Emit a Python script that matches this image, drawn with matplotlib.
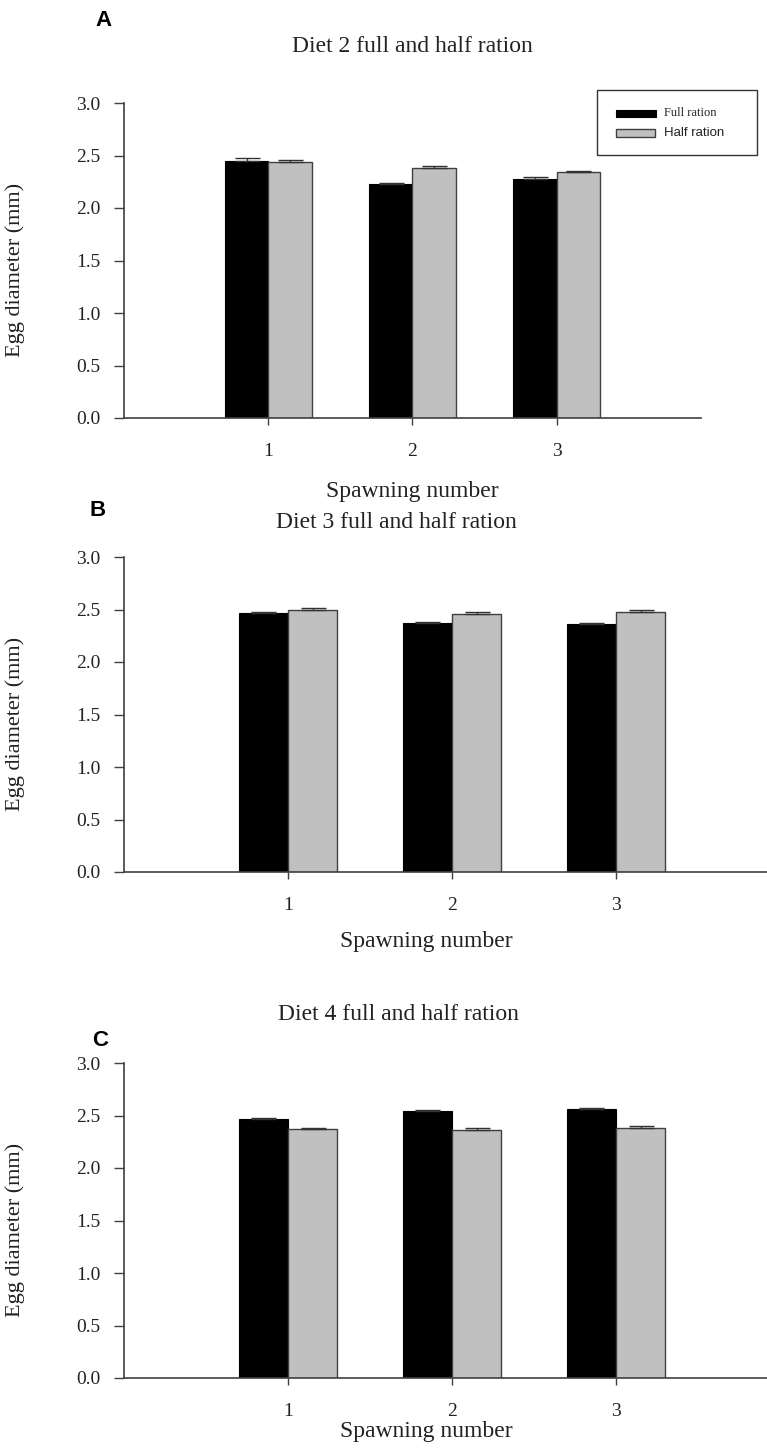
import matplotlib
matplotlib.use("Agg")
import matplotlib.pyplot as plt
from matplotlib.patches import Rectangle
import numpy as np

# ---------------- data ----------------
spawning = [1, 2, 3]
tick_labels = ["1", "2", "3"]
y_ticks = [0.0, 0.5, 1.0, 1.5, 2.0, 2.5, 3.0]
y_tick_labels = ["0.0", "0.5", "1.0", "1.5", "2.0", "2.5", "3.0"]
series_names = ["Full ration", "Half ration"]
titles = ["Diet 2 full and half ration", "Diet 3 full and half ration", "Diet 4 full and half ration"]
panel_letters = ["A", "B", "C"]

diet2_full = [2.45, 2.23, 2.28]
diet2_full_err = [0.022, 0.012, 0.019]
diet2_half = [2.44, 2.38, 2.34]
diet2_half_err = [0.015, 0.018, 0.013]

diet3_full = [2.465, 2.37, 2.36]
diet3_full_err = [0.010, 0.012, 0.012]
diet3_half = [2.495, 2.455, 2.48]
diet3_half_err = [0.020, 0.018, 0.015]

diet4_full = [2.465, 2.545, 2.565]
diet4_full_err = [0.012, 0.010, 0.010]
diet4_half = [2.37, 2.365, 2.38]
diet4_half_err = [0.015, 0.015, 0.020]

# ---------------- layout helpers ----------------
W, H = 767, 1450
fig = plt.figure(figsize=(W / 100, H / 100), dpi=100)
fig.patch.set_facecolor("white")

def fx(x):
    return x / W

def fy(y):
    return 1 - y / H

SERIF = ["Liberation Serif", "DejaVu Serif"]
SANS = ["Liberation Sans", "DejaVu Sans"]
FULL_COLOR = "#000000"
HALF_COLOR = "#c0c0c0"
EDGE_HALF = "#404040"
AX_COLOR = "#404040"

# axes pixel boxes: left, right, top(3.0), bottom(0.0)
boxes = [(124, 701, 103, 418), (124, 780, 557, 872), (124, 780, 1063, 1378)]
title_pos = [(412, 46), (396, 523), (398, 1015)]
letter_pos = [(104, 21), (98, 510), (100, 1040)]
xlabel_pos = [(412, 491), (426, 941), (426, 1432)]

panels = [
    (diet2_full, diet2_full_err, diet2_half, diet2_half_err),
    (diet3_full, diet3_full_err, diet3_half, diet3_half_err),
    (diet4_full, diet4_full_err, diet4_half, diet4_half_err),
]

bw = 0.3
for i, (full, full_err, half, half_err) in enumerate(panels):
    l, r, t, b = boxes[i]
    ax = fig.add_axes([fx(l), fy(b), fx(r) - fx(l), fy(t) - fy(b)])
    x = np.array(spawning, dtype=float)
    ax.bar(x - bw / 2, full, width=bw, color=FULL_COLOR, edgecolor=FULL_COLOR,
           linewidth=0.8, zorder=2, label=series_names[0])
    ax.bar(x + bw / 2, half, width=bw, color=HALF_COLOR, edgecolor=EDGE_HALF,
           linewidth=1.0, zorder=2, label=series_names[1])
    ax.errorbar(x - bw / 2, full, yerr=[np.zeros(3), full_err], fmt="none",
                ecolor="#333333", elinewidth=1.0, capsize=9, capthick=1.0, zorder=3)
    ax.errorbar(x + bw / 2, half, yerr=[np.zeros(3), half_err], fmt="none",
                ecolor="#333333", elinewidth=1.0, capsize=9, capthick=1.0, zorder=3)

    ax.set_xlim(0, 4)
    ax.set_ylim(0, 3.0)
    ax.set_xticks(spawning)
    ax.set_xticklabels(tick_labels, fontsize=14, family=SERIF, color="#222222")
    ax.set_yticks(y_ticks)
    ax.set_yticklabels(y_tick_labels, fontsize=14, family=SERIF, color="#222222")
    ax.tick_params(axis="x", direction="out", length=5, width=1, color=AX_COLOR, pad=13)
    ax.tick_params(axis="y", direction="out", length=7, width=1, color=AX_COLOR, pad=10)
    for s in ["top", "right"]:
        ax.spines[s].set_visible(False)
    for s in ["left", "bottom"]:
        ax.spines[s].set_color(AX_COLOR)
        ax.spines[s].set_linewidth(1.2)

    ax.set_ylabel("Egg diameter (mm)", fontsize=16, family=SERIF, color="#222222")
    ax.yaxis.set_label_coords((25 - l) / (r - l), 0.47)

    fig.text(fx(xlabel_pos[i][0]), fy(xlabel_pos[i][1]), "Spawning number",
             fontsize=17, family=SERIF, color="#222222", ha="center", va="center")
    fig.text(fx(title_pos[i][0]), fy(title_pos[i][1]), titles[i],
             fontsize=17, family=SERIF, color="#222222", ha="center", va="center")
    fig.text(fx(letter_pos[i][0]), fy(letter_pos[i][1]), panel_letters[i],
             fontsize=16, family=SANS, fontweight="bold", color="black",
             ha="center", va="center")

# ---------------- legend (panel A) ----------------
fig.add_artist(Rectangle((fx(597), fy(155)), fx(757) - fx(597), fy(90) - fy(155),
                         transform=fig.transFigure, facecolor="white",
                         edgecolor="#333333", linewidth=1.0))
fig.add_artist(Rectangle((fx(616), fy(117)), fx(656) - fx(616), fy(110) - fy(117),
                         transform=fig.transFigure, facecolor=FULL_COLOR,
                         edgecolor=FULL_COLOR, linewidth=0.8))
fig.add_artist(Rectangle((fx(616), fy(137)), fx(655) - fx(616), fy(129) - fy(137),
                         transform=fig.transFigure, facecolor=HALF_COLOR,
                         edgecolor=EDGE_HALF, linewidth=1.0))
fig.text(fx(664), fy(113.5), series_names[0], fontsize=9, family=SERIF,
         color="#222222", ha="left", va="center")
fig.text(fx(664), fy(133), series_names[1], fontsize=9.5, family=SANS,
         color="#222222", ha="left", va="center")

fig.savefig("out.png", dpi=100, facecolor="white")
